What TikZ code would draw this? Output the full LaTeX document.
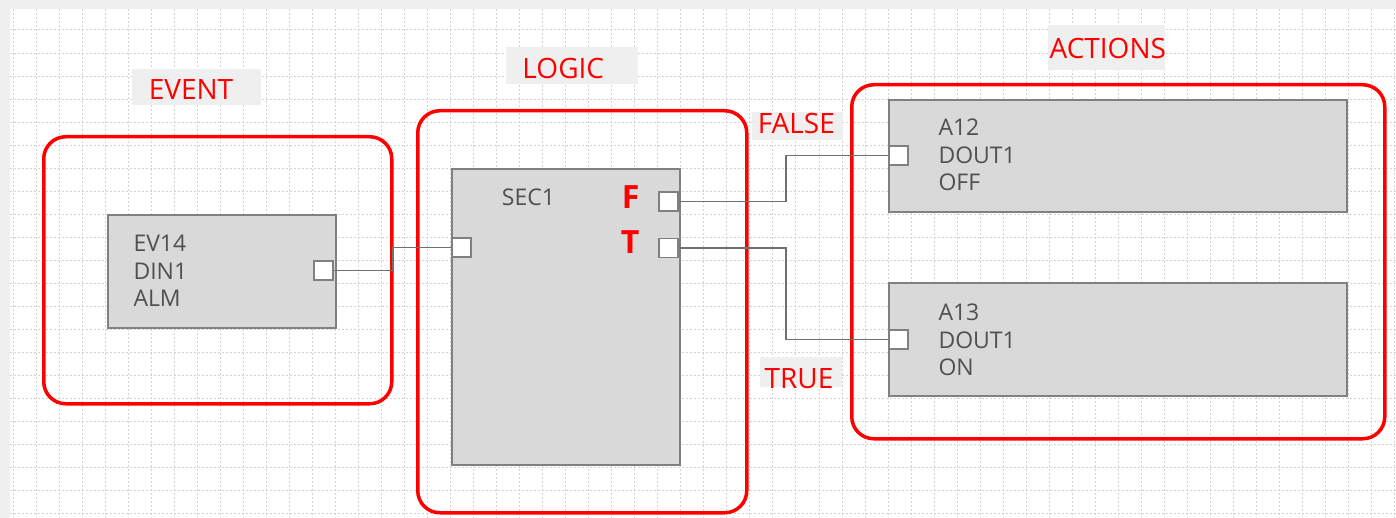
\documentclass[tikz,border=0pt]{standalone}
\usepackage{fontspec}
\setmainfont{Open Sans}
\definecolor{frame}{HTML}{F0F0F0}
\definecolor{gridc}{HTML}{D2D2D2}
\definecolor{blkfill}{HTML}{D9D9D9}
\definecolor{blkdraw}{HTML}{808080}
\definecolor{wirec}{HTML}{707070}
\definecolor{txtc}{HTML}{505050}
\definecolor{labbg}{HTML}{EFEFEF}
\definecolor{redc}{HTML}{FF0000}
\begin{document}
\begin{tikzpicture}[x=1pt,y=-1pt,
  grp/.style={draw=redc, line width=3.5pt, rounded corners=22pt, anchor=north west, inner sep=0pt},
  blk/.style={draw=blkdraw, fill=blkfill, line width=1.8pt, anchor=north west, inner sep=0pt},
  port/.style={draw=blkdraw, fill=white, line width=1.8pt, minimum size=19pt, inner sep=0pt},
  wire/.style={draw=wirec, line width=1.4pt},
  btxt/.style={text=txtc, font=\fontsize{23}{27}\selectfont, anchor=base west, inner sep=0pt},
  rlab/.style={text=redc, font=\fontsize{28}{32}\selectfont, anchor=base, inner sep=0pt},
  rbold/.style={text=redc, font=\fontsize{32}{36}\selectfont\bfseries, anchor=base west, inner sep=0pt},
  labfill/.style={fill=labbg}
]
\useasboundingbox (0,0) rectangle (1396,518);
% background
\fill[frame] (0,0) rectangle (1396,518);
\fill[white] (10,9) rectangle (1396,518);
% grid
\foreach \k in {0,...,60} {
  \draw[gridc, line width=1pt, dash pattern=on 2pt off 2pt] (13.3+23.02*\k,9) -- (13.3+23.02*\k,518);
}
\foreach \k in {0,...,21} {
  \draw[gridc, line width=1pt, dash pattern=on 2pt off 2pt] (10,30+23.02*\k) -- (1396,30+23.02*\k);
}
% label backgrounds
\fill[labfill] (131.7,69.3) rectangle (260.7,105);
\fill[labfill] (506,47.3) rectangle (638.3,84.3);
\fill[labfill] (1048,25) rectangle (1165,70);
\fill[labfill] (751.7,111.7) rectangle (843.3,140);
\fill[labfill] (760,356.7) rectangle (841.7,386.7);
% group labels
\node[rlab] (levent) at (191,100) {EVENT};
\node[rlab] (llogic) at (563.3,78.3) {LOGIC};
\node[rlab] (lactions) at (1107.8,58.3) {ACTIONS};
\node[rlab] (lfalse) at (796.3,133.3) {FALSE};
\node[rlab] (ltrue) at (799,388) {TRUE};
% group frames
\node[grp, minimum width=348pt, minimum height=267pt] (gevent) at (42,135) {};
\node[grp, minimum width=329pt, minimum height=402pt] (glogic) at (416,109) {};
\node[grp, minimum width=533pt, minimum height=354pt] (gactions) at (850,83) {};
% blocks
\node[blk, minimum width=228pt, minimum height=113pt] (ev) at (107,214) {};
\node[blk, minimum width=228pt, minimum height=296pt] (sec) at (451,168) {};
\node[blk, minimum width=458pt, minimum height=112pt] (a12) at (888,99) {};
\node[blk, minimum width=458pt, minimum height=113pt] (a13) at (888,282) {};
% block texts
\node[btxt] (ev1) at (133.3,251.7) {EV14};
\node[btxt] (ev2) at (133.3,279.3) {DIN1};
\node[btxt] (ev3) at (133.3,306.7) {ALM};
\node[btxt] (sec1) at (501.7,206) {SEC1};
\node[btxt] (a121) at (938.3,136) {A12};
\node[btxt] (a122) at (938.3,164) {DOUT1};
\node[btxt] (a123) at (938.3,190.7) {OFF};
\node[btxt] (a131) at (938.3,320.7) {A13};
\node[btxt] (a132) at (938.3,348.3) {DOUT1};
\node[btxt] (a133) at (938.3,375) {ON};
\node[rbold] (ftxt) at (621.7,208.3) {F};
\node[rbold] (ttxt) at (620.7,253.3) {T};
% ports
\node[port] (evout) at (323.5,270.5) {};
\node[port] (secin) at (461.5,247.5) {};
\node[port] (fport) at (668.5,201.5) {};
\node[port] (tport) at (668.5,248) {};
\node[port] (a12in) at (898.5,155.5) {};
\node[port] (a13in) at (898.5,339.5) {};
% bends
\coordinate (b1) at (393,0);
\coordinate (b2) at (786,0);
% wires
\draw[wire] (evout.east) -- (evout.east -| b1) |- (secin.west);
\draw[wire] (fport.east) -- (fport.east -| b2) |- (a12in.west);
\draw[wire] (tport.east) -- (tport.east -| b2) |- (a13in.west);
\end{tikzpicture}
\end{document}
